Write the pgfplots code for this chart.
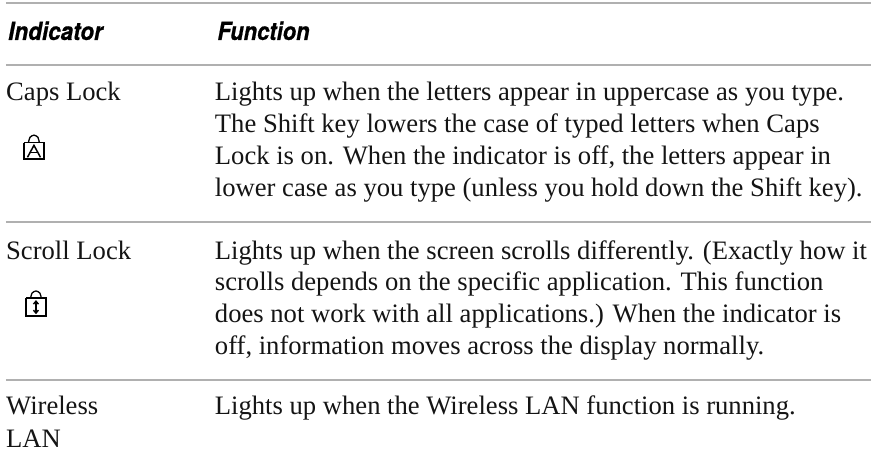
\documentclass[border=0pt]{standalone}
\usepackage{fontspec}
\setmainfont{Liberation Serif}
\newfontfamily\headfont{TeX Gyre Heros}[FakeBold=0.6]
\usepackage{pgfplots}
\pgfplotsset{compat=1.18}
\definecolor{rulegray}{HTML}{B0B0B0}
\definecolor{ink}{HTML}{141414}
\begin{document}
\begin{tikzpicture}[x=1pt,y=1pt]
\begin{axis}[
  at={(0,0)},anchor=south west,
  width=872pt,height=470pt,scale only axis,
  xmin=0,xmax=872,ymin=0,ymax=470,
  hide axis,clip=false,
  y dir=reverse,
]
\addplot[draw=none,forget plot] coordinates {(0,0) (872,470)};
\addplot[color=rulegray,line width=2pt,forget plot] coordinates {(6,3) (872,3)};
\addplot[color=rulegray,line width=2pt,forget plot] coordinates {(6,65) (872,65)};
\addplot[color=rulegray,line width=2pt,forget plot] coordinates {(6,222) (872,222)};
\addplot[color=rulegray,line width=2pt,forget plot] coordinates {(6,380) (872,380)};
% Caps Lock icon
\addplot[black,line width=1.5pt,forget plot] coordinates {(24,142.7) (44,142.7) (44,159.3) (24,159.3) (24,142.7)};
\addplot[black,line width=1.3pt,smooth,forget plot] coordinates {(28.5,142.7) (30,137.5) (34,135.3) (38,137.5) (39.3,142.7)};
\addplot[black,line width=1.5pt,forget plot] coordinates {(27.5,157.5) (34,145.5) (40.5,157.5)};
\addplot[black,line width=1.4pt,forget plot] coordinates {(30,152.5) (38,152.5)};
% Scroll Lock icon
\addplot[black,line width=1.5pt,forget plot] coordinates {(26,298.5) (46,298.5) (46,316.5) (26,316.5) (26,298.5)};
\addplot[black,line width=1.3pt,smooth,forget plot] coordinates {(30.7,298.5) (32,293.5) (36,291.3) (40,293.5) (41.3,298.5)};
\addplot[black,line width=1.6pt,forget plot] coordinates {(36,302) (36,313)};
\addplot[black,line width=1.4pt,forget plot] coordinates {(33.5,304.5) (36,301.5) (38.5,304.5)};
\addplot[black,line width=1.4pt,forget plot] coordinates {(33.5,310.5) (36,313.5) (38.5,310.5)};
\tikzset{t/.style={anchor=base west,inner sep=0pt,text=ink,font=\fontsize{26.65}{27}\selectfont},h/.style={anchor=base west,inner sep=0pt,text=black,font=\fontsize{25}{25}\headfont\bfseries\itshape}}
\node[h] at (axis cs:8,40) {\scalebox{0.9}[1]{Indicator}};
\node[h] at (axis cs:217.5,40) {\scalebox{0.88}[1]{Function}};
\node[t] at (axis cs:6,101) {Caps Lock};
\node[t] at (axis cs:215,101) {Lights up when the letters appear in uppercase as you type.};
\node[t] at (axis cs:215,132.7) {The Shift key lowers the case of typed letters when Caps};
\node[t] at (axis cs:215,165) {Lock is on. When the indicator is off, the letters appear in};
\node[t] at (axis cs:215,196.7) {lower case as you type (unless you hold down the Shift key).};
\node[t] at (axis cs:6,259.3) {Scroll Lock};
\node[t] at (axis cs:215,259.3) {Lights up when the screen scrolls differently. (Exactly how it};
\node[t] at (axis cs:215,291) {scrolls depends on the specific application. This function};
\node[t] at (axis cs:215,322.7) {does not work with all applications.) When the indicator is};
\node[t] at (axis cs:215,355) {off, information moves across the display normally.};
\node[t] at (axis cs:6,415) {Wireless};
\node[t] at (axis cs:215,415) {Lights up when the Wireless LAN function is running.};
\node[t] at (axis cs:6,448) {LAN};
\end{axis}
\end{tikzpicture}
\end{document}
